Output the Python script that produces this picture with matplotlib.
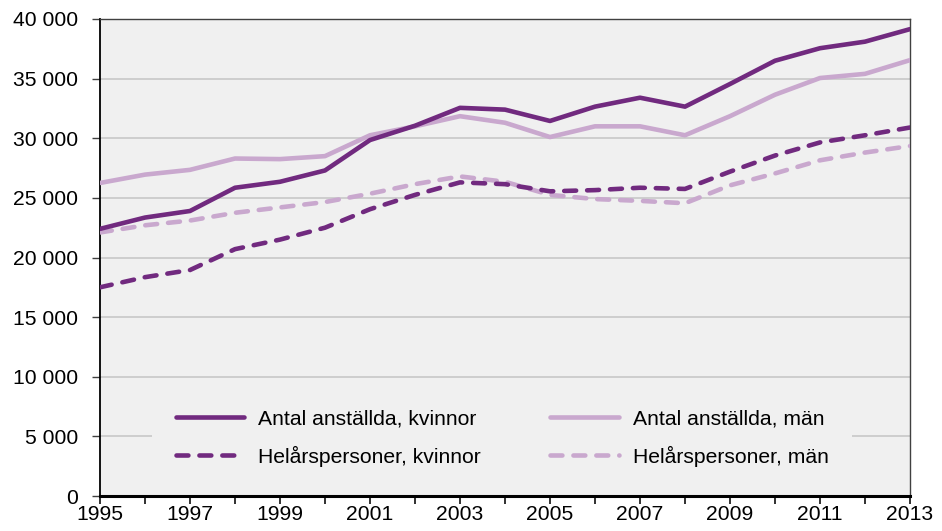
import matplotlib
matplotlib.use("Agg")
import matplotlib.pyplot as plt
from matplotlib.ticker import FuncFormatter, MultipleLocator

plt.rcParams['font.family'] = ['Liberation Sans', 'DejaVu Sans']

years = list(range(1995, 2014))
antal_kvinnor = [22400, 23350, 23900, 25850, 26350, 27300, 29850, 31050, 32550, 32400,
                 31450, 32650, 33400, 32650, 34550, 36500, 37550, 38100, 39150]
antal_man = [26250, 26950, 27350, 28300, 28250, 28500, 30250, 31000, 31850, 31300,
             30100, 31000, 31000, 30250, 31850, 33650, 35050, 35400, 36550]
helars_kvinnor = [17500, 18350, 18950, 20700, 21500, 22500, 24050, 25250, 26300, 26150,
                  25550, 25650, 25850, 25750, 27200, 28550, 29650, 30250, 30900]
helars_man = [22100, 22700, 23100, 23750, 24200, 24650, 25350, 26150, 26800, 26350,
              25250, 24900, 24750, 24550, 26050, 27050, 28150, 28800, 29350]
labels = ["Antal anställda, kvinnor", "Antal anställda, män",
          "Helårspersoner, kvinnor", "Helårspersoner, män"]

dark = '#712A7F'
light = '#C9A8CE'
fs = 15.2

fig = plt.figure(figsize=(9.42, 5.31), dpi=100)
ax = fig.add_axes([100/942, 1-496/531, 810/942, 477/531])
ax.set_facecolor('#F0F0F0')

lw = 3.3
h0, = ax.plot(years, antal_kvinnor, color=dark, lw=lw, solid_capstyle='round', label=labels[0], zorder=5)
h1, = ax.plot(years, antal_man, color=light, lw=lw, solid_capstyle='round', label=labels[1], zorder=4)
h2, = ax.plot(years, helars_kvinnor, color=dark, lw=lw, dashes=(2.6, 2.4), dash_capstyle='round', label=labels[2], zorder=5)
h3, = ax.plot(years, helars_man, color=light, lw=lw, dashes=(2.6, 2.4), dash_capstyle='round', label=labels[3], zorder=4)

ax.set_xlim(1995, 2013)
ax.set_ylim(0, 40000)
ax.yaxis.set_major_locator(MultipleLocator(5000))
ax.yaxis.set_major_formatter(FuncFormatter(lambda v, p: f"{int(v):,}".replace(",", " ")))
ax.set_xticks(years, minor=True)
ax.set_xticks(list(range(1995, 2014, 2)))
ax.set_xticklabels([str(y) for y in range(1995, 2014, 2)])
ax.grid(axis='y', color='#C8C8C8', lw=1.2)
ax.set_axisbelow(True)

ax.tick_params(axis='y', direction='out', length=6, width=1, color='#404040', labelsize=fs, pad=10)
ax.tick_params(axis='x', which='both', direction='out', length=6, width=1.3, color='#202020', labelsize=fs, pad=0.5)

for s in ['top', 'right']:
    ax.spines[s].set_color('#404040')
    ax.spines[s].set_linewidth(1.0)
ax.spines['left'].set_color('#000000')
ax.spines['left'].set_linewidth(1.3)
ax.spines['bottom'].set_color('#000000')
ax.spines['bottom'].set_linewidth(2.2)

leg = ax.legend([h0, h2, h1, h3], [labels[0], labels[2], labels[1], labels[3]],
                loc='center', bbox_to_anchor=(0.4965, 0.122), ncol=2, fontsize=fs,
                handlelength=3.25, handletextpad=0.65, columnspacing=3.3, labelspacing=0.83,
                frameon=True, facecolor='#F0F0F0', edgecolor='none', framealpha=1,
                borderpad=1.1, fancybox=False)
leg.set_zorder(6)

fig.savefig('out.png', dpi=100)
